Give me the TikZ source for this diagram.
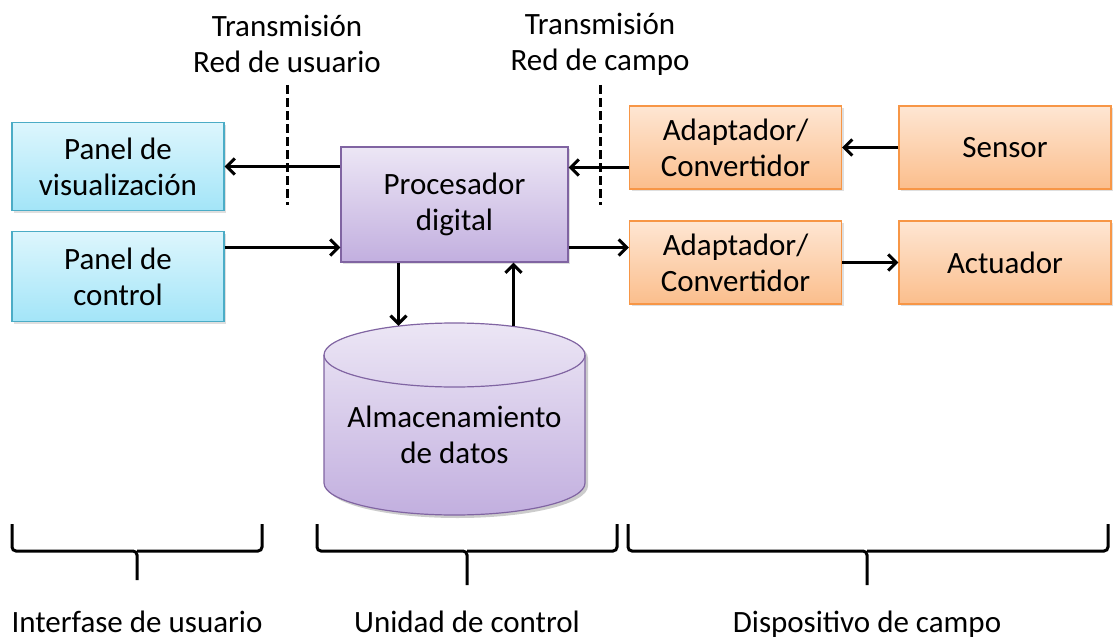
\documentclass[tikz,border=0pt]{standalone}
\usepackage{fontspec}
\setmainfont{Carlito}
\usetikzlibrary{shapes,arrows.meta,shadows}
\definecolor{bluetop}{HTML}{DDF6FD}
\definecolor{bluebot}{HTML}{A3E5F8}
\definecolor{blueline}{HTML}{4BACC6}
\definecolor{purtop}{HTML}{ECE6F5}
\definecolor{purbot}{HTML}{C2AFDF}
\definecolor{purline}{HTML}{8064A2}
\definecolor{ortop}{HTML}{FEE6D3}
\definecolor{orbot}{HTML}{FBBE8C}
\definecolor{orline}{HTML}{F79646}
\tikzstyle{box} = [draw,line width=1.2pt,align=center,font=\fontsize{31}{36}\selectfont,
  drop shadow={opacity=0.25,shadow xshift=2pt,shadow yshift=-2pt}]
\tikzstyle{panel} = [box,draw=blueline,top color=bluetop,bottom color=bluebot,minimum width=212pt]
\tikzstyle{unit} = [box,draw=purline,top color=purtop,bottom color=purbot]
\tikzstyle{field} = [box,draw=orline,top color=ortop,bottom color=orbot,minimum width=212pt,minimum height=83pt]
\tikzstyle{arrow} = [line width=3.1pt,-{Straight Barb[length=8pt,width=16pt]}]
\tikzstyle{sep} = [line width=3pt,dash pattern=on 9pt off 4pt]
\tikzstyle{brace} = [line width=3pt,rounded corners=4pt]
\tikzstyle{label} = [align=center,font=\fontsize{31}{36}\selectfont]

\begin{document}
\begin{tikzpicture}[x=1pt,y=-1pt]
  \useasboundingbox (0,0) rectangle (1114,642);
  \node[panel,minimum height=88pt] (vis) at (118,166.5) {Panel de\\visualización};
  \node[panel,minimum height=90pt] (ctrl) at (118,276.5) {Panel de\\control};
  \node[unit,minimum width=227pt,minimum height=115pt] (proc) at (454.5,204.5) {Procesador\\digital};
  \node[field] (adin) at (735.5,147.5) {Adaptador/\\Convertidor};
  \node[field] (sens) at (1005,147.5) {Sensor};
  \node[field] (adout) at (735.5,262.5) {Adaptador/\\Convertidor};
  \node[field] (act) at (1005,262.5) {Actuador};
  % almacenamiento (cilindro)
  \fill[black,opacity=0.2] (327,358) -- (327,486) arc[start angle=180,end angle=0,x radius=130.5,y radius=32]
    -- (588,358) arc[start angle=0,end angle=-180,x radius=130.5,y radius=32] -- cycle;
  \draw[line width=1.2pt,draw=purline,top color=purtop,bottom color=purbot]
    (324,355) -- (324,483) arc[start angle=180,end angle=0,x radius=130.5,y radius=32]
    -- (585,355) arc[start angle=0,end angle=-180,x radius=130.5,y radius=32] -- cycle;
  \draw[line width=1.2pt,draw=purline] (324,355) arc[start angle=180,end angle=0,x radius=130.5,y radius=32];
  \node[label,minimum width=261pt,minimum height=160pt] (store) at (454.5,435) {Almacenamiento\\de datos};
  % flechas
  \draw[arrow] (proc.west |- vis.east) -- (vis.east);
  \draw[arrow] (ctrl.east |- 0,247.5) -- (proc.west |- 0,247.5);
  \draw[arrow] (adin.west |- 0,167.5) -- (proc.east |- 0,167.5);
  \draw[arrow] (sens.west) -- (adin.east |- sens.west);
  \draw[arrow] (proc.east |- 0,247.5) -- (adout.west |- 0,247.5);
  \draw[arrow] (adout.east) -- (act.west);
  \draw[arrow] ([xshift=-56pt]proc.south) -- ([xshift=-56pt,yshift=29pt]store.north);
  \draw[arrow] ([xshift=59pt,yshift=29pt]store.north) -- ([xshift=59pt]proc.south);
  % transmision
  \node[label] (tuser) at (287,44) {Transmisión\\Red de usuario};
  \node[label] (tfield) at (600,44) {Transmisión\\Red de campo};
  \draw[sep] (287.5,85) -- (287.5,205);
  \draw[sep] (600.5,85) -- (600.5,205);
  % llaves
  \draw[brace] (12,524) |- (137,551) -- (137,580);
  \draw[brace] (137,551) -| (262,524);
  \draw[brace] (317,524) |- (467,551) -- (467,585);
  \draw[brace] (467,551) -| (617,524);
  \draw[brace] (628,524) |- (867,551) -- (867,585);
  \draw[brace] (867,551) -| (1108,524);
  \node[label] (iface) at (137,622) {Interfase de usuario};
  \node[label] (cunit) at (467,622) {Unidad de control};
  \node[label] (fdev) at (867,624) {Dispositivo de campo};
\end{tikzpicture}
\end{document}
